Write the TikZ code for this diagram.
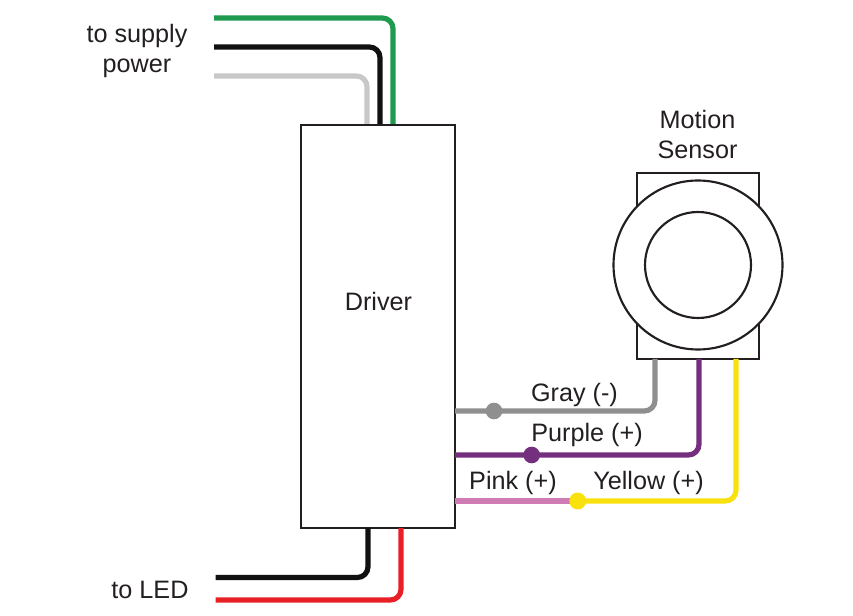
\documentclass[tikz,border=0pt]{standalone}
\usepackage{fontspec}
\setmainfont{Liberation Sans}
\definecolor{wgreen}{HTML}{1F9A4F}
\definecolor{wblack}{HTML}{111111}
\definecolor{wlgray}{HTML}{C8C8C8}
\definecolor{wgray}{HTML}{8F8F8F}
\definecolor{wpurple}{HTML}{74307F}
\definecolor{wpink}{HTML}{CF7BB4}
\definecolor{wyellow}{HTML}{F8E10C}
\definecolor{wred}{HTML}{E81F27}
\definecolor{ink}{HTML}{231F20}
\tikzset{
  wire/.style={line width=3.9pt,rounded corners=8pt,line join=round},
  box/.style={draw=ink,line width=1.6pt,fill=white,inner sep=0pt,rectangle},
  ring/.style={draw=ink,line width=1.6pt,fill=white,circle,inner sep=0pt},
  lab/.style={text=ink,font=\fontsize{18.9}{23}\selectfont,inner sep=0pt,align=center},
  dot/.style={circle,inner sep=0pt,minimum size=12.5pt}
}
\begin{document}
\begin{tikzpicture}[x=0.75pt,y=-0.75pt]
\useasboundingbox (0,0) rectangle (853,616);
% boxes
\node[box,minimum width=115.5pt,minimum height=302.25pt] (driver) at (378,326.5) {};
\node[lab] (driverlab) at (378.5,301) {Driver};
\node[box,minimum width=91.5pt,minimum height=139.5pt] (sensor) at (698,266) {};
\node[ring,minimum size=126.75pt] (outer) at (698,265) {};
\node[ring,minimum size=79.5pt] (inner) at (698,265) {};
% free ends
\coordinate (gS) at (214,18);
\coordinate (bS) at (214,47);
\coordinate (lS) at (214,76);
\coordinate (gD) at (393,124);
\coordinate (bD) at (380,124);
\coordinate (lD) at (367,124);
\coordinate (kS) at (215.5,577.5);
\coordinate (rS) at (215.5,600);
\coordinate (kD) at (368,528);
\coordinate (rD) at (401,528);
\coordinate (grayD) at (455,411);
\coordinate (grayM) at (655,359);
\coordinate (purD) at (455,455);
\coordinate (purM) at (699,359);
\coordinate (pinkD) at (455,501);
\coordinate (yelM) at (736,359);
% dots
\node[dot,fill=wgray] (dg) at (494,411) {};
\node[dot,fill=wpurple] (dp) at (531.7,455) {};
% wires
\draw[wire,wgreen] (gS) -| (gD);
\draw[wire,wblack] (bS) -| (bD);
\draw[wire,wlgray] (lS) -| (lD);
\draw[wire,wblack] (kS) -| (kD);
\draw[wire,wred] (rS) -| (rD);
\draw[wire,wgray] (grayD) -| (grayM);
\draw[wire,wpurple] (purD) -| (purM);
\node[dot,fill=wyellow] (dy) at (577.7,501) {};
\draw[wire,wpink] (pinkD) -- (dy.center);
\draw[wire,wyellow] (dy.center) -| (yelM);
\node[dot,fill=wyellow] at (dy.center) {};
% labels
\node[lab] (l1) at (137,51) {to supply\\power};
\node[lab] (l2) at (150,590) {to LED};
\node[lab] (l3) at (697.5,134.5) {Motion\\Sensor};
\node[lab] (l4) at (574.5,395) {Gray (-)};
\node[lab] (l5) at (587,435) {Purple (+)};
\node[lab] (l6) at (513,483) {Pink (+)};
\node[lab] (l7) at (648.5,483) {Yellow (+)};
\end{tikzpicture}
\end{document}
